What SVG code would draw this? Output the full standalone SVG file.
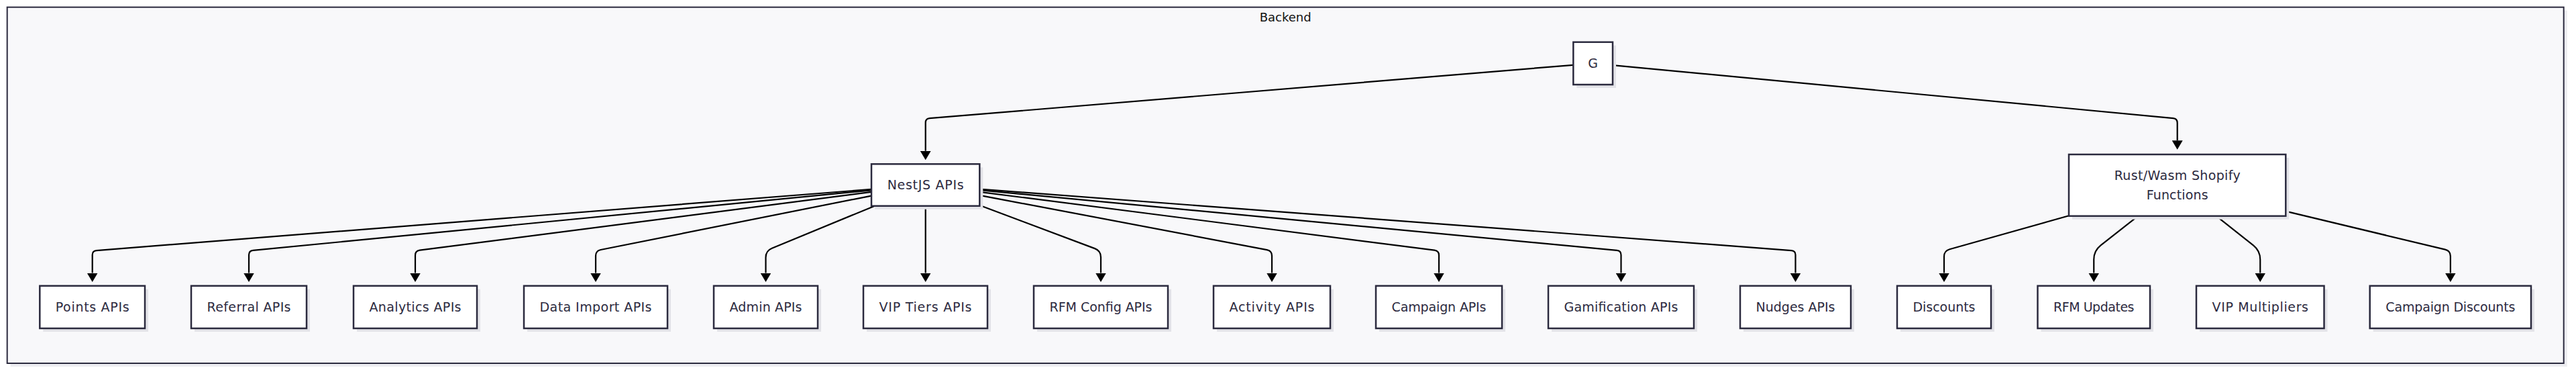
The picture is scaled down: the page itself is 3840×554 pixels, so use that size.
<svg xmlns="http://www.w3.org/2000/svg" width="3840" height="554" viewBox="0 0 3840 554">
<defs>
<marker id="arrow" viewBox="0 0 13.5 16" refX="0" refY="8" markerWidth="13.5" markerHeight="16" markerUnits="userSpaceOnUse" orient="auto">
<path d="M0,0 L13.5,8 L0,16 z" fill="#000"/>
</marker>
</defs>
<style>
.frame{fill:#f8f8fa;stroke:#2b2a3e;stroke-width:2}
.fshadow{fill:#ececf0}
.shadow{fill:#e3e3e8}
.box{fill:#ffffff;stroke:#2b2a3e;stroke-width:2.5}
.lbl{font-family:"DejaVu Sans",sans-serif;font-size:19px;fill:#2c2a40;text-anchor:middle}
.title{font-family:"DejaVu Sans",sans-serif;font-size:18px;fill:#111111;text-anchor:middle}
.edge{fill:none;stroke:#000;stroke-width:2.2;marker-end:url(#arrow)}
</style>
<rect width="3840" height="554" fill="#ffffff"/>
<g id="backend">
<rect class="fshadow" x="15.7" y="15.7" width="3811" height="530.3"/>
<rect class="frame" x="10.7" y="10.7" width="3811" height="530.3"/>
<text class="title" x="1916.2" y="32">Backend</text>
</g>
<g id="connectors">
<path class="edge" d="M2345.3,96.78 L1385.75,176.2 Q1379.7,176.7 1379.7,182.77 L1379.7,224.8"/>
<path class="edge" d="M2404,97.12 L3239.51,176.11 Q3245.7,176.7 3245.7,182.92 L3245.7,209.2"/>
<path class="edge" d="M1299.05,281.86 L143.7,373.03 Q137.7,373.5 137.7,379.52 L137.7,406.5"/>
<path class="edge" d="M1299.05,283.34 L377.23,372.89 Q371,373.5 371,379.76 L371,406.5"/>
<path class="edge" d="M1299.05,285.89 L625.61,372.65 Q619,373.5 619,380.16 L619,406.5"/>
<path class="edge" d="M1299.05,291.57 L895.39,372.03 Q888,373.5 888,381.04 L888,406.5"/>
<path class="edge" d="M1303.86,306.7 L1150.7,369.71 Q1141.5,373.5 1141.5,383.45 L1141.5,406.5"/>
<path class="edge" d="M1379.7,306.7 L1379.7,406.5"/>
<path class="edge" d="M1460.35,305.75 L1632.05,370.14 Q1641,373.5 1641,383.06 L1641,406.5"/>
<path class="edge" d="M1460.35,290.81 L1888.71,372.12 Q1896,373.5 1896,380.92 L1896,406.5"/>
<path class="edge" d="M1460.35,285.83 L2138.4,372.66 Q2145,373.5 2145,380.15 L2145,406.5"/>
<path class="edge" d="M1460.35,283.12 L2410.31,372.91 Q2416.5,373.5 2416.5,379.72 L2416.5,406.5"/>
<path class="edge" d="M1460.35,281.59 L2670.54,373.05 Q2676.5,373.5 2676.5,379.48 L2676.5,406.5"/>
<path class="edge" d="M3084.05,321.25 L2906.19,371.2 Q2898,373.5 2898,382.01 L2898,406.5"/>
<path class="edge" d="M3187.27,321.7 L3131.49,365.46 Q3121.25,373.5 3121.25,386.52 L3121.25,406.5"/>
<path class="edge" d="M3303.7,321.7 L3359,365.4 Q3369.25,373.5 3369.25,386.56 L3369.25,406.5"/>
<path class="edge" d="M3407.35,314.62 L3645.04,371.63 Q3652.85,373.5 3652.85,381.53 L3652.85,406.5"/>
</g>
<g id="node-G">
<rect class="shadow" x="2350.3" y="67.7" width="58.7" height="63.3"/>
<rect class="box" x="2345.3" y="62.7" width="58.7" height="63.3"/>
<text class="lbl" x="2374.65" y="101">G</text>
</g>
<g id="node-nestjs">
<rect class="shadow" x="1304" y="249.3" width="161.3" height="62.4"/>
<rect class="box" x="1299" y="244.3" width="161.3" height="62.4"/>
<text class="lbl" x="1379.65" y="282.3" textLength="114">NestJS APIs</text>
</g>
<g id="node-rust">
<rect class="shadow" x="3089" y="235" width="323.3" height="91.7"/>
<rect class="box" x="3084" y="230" width="323.3" height="91.7"/>
<text class="lbl" x="3245.65" y="268.3" textLength="188">Rust/Wasm Shopify</text>
<text class="lbl" x="3245.65" y="296.7" textLength="92">Functions</text>
</g>
<g id="node-points">
<rect class="shadow" x="64.3" y="430.7" width="156.7" height="63.3"/>
<rect class="box" x="59.3" y="425.7" width="156.7" height="63.3"/>
<text class="lbl" x="137.65" y="464.2" textLength="110">Points APIs</text>
</g>
<g id="node-referral">
<rect class="shadow" x="290" y="430.7" width="172" height="63.3"/>
<rect class="box" x="285" y="425.7" width="172" height="63.3"/>
<text class="lbl" x="371" y="464.2" textLength="125">Referral APIs</text>
</g>
<g id="node-analytics">
<rect class="shadow" x="532" y="430.7" width="184" height="63.3"/>
<rect class="box" x="527" y="425.7" width="184" height="63.3"/>
<text class="lbl" x="619" y="464.2" textLength="137">Analytics APIs</text>
</g>
<g id="node-dataimport">
<rect class="shadow" x="786" y="430.7" width="214" height="63.3"/>
<rect class="box" x="781" y="425.7" width="214" height="63.3"/>
<text class="lbl" x="888" y="464.2" textLength="167">Data Import APIs</text>
</g>
<g id="node-admin">
<rect class="shadow" x="1069" y="430.7" width="155" height="63.3"/>
<rect class="box" x="1064" y="425.7" width="155" height="63.3"/>
<text class="lbl" x="1141.5" y="464.2" textLength="108">Admin APIs</text>
</g>
<g id="node-viptiers">
<rect class="shadow" x="1292" y="430.7" width="185" height="63.3"/>
<rect class="box" x="1287" y="425.7" width="185" height="63.3"/>
<text class="lbl" x="1379.5" y="464.2" textLength="138">VIP Tiers APIs</text>
</g>
<g id="node-rfmconfig">
<rect class="shadow" x="1546" y="430.7" width="200" height="63.3"/>
<rect class="box" x="1541" y="425.7" width="200" height="63.3"/>
<text class="lbl" x="1641" y="464.2" textLength="153">RFM Config APIs</text>
</g>
<g id="node-activity">
<rect class="shadow" x="1814" y="430.7" width="174" height="63.3"/>
<rect class="box" x="1809" y="425.7" width="174" height="63.3"/>
<text class="lbl" x="1896" y="464.2" textLength="127">Activity APIs</text>
</g>
<g id="node-campaignapis">
<rect class="shadow" x="2056" y="430.7" width="188" height="63.3"/>
<rect class="box" x="2051" y="425.7" width="188" height="63.3"/>
<text class="lbl" x="2145" y="464.2" textLength="141">Campaign APIs</text>
</g>
<g id="node-gamification">
<rect class="shadow" x="2313" y="430.7" width="217" height="63.3"/>
<rect class="box" x="2308" y="425.7" width="217" height="63.3"/>
<text class="lbl" x="2416.5" y="464.2" textLength="170">Gamification APIs</text>
</g>
<g id="node-nudges">
<rect class="shadow" x="2599" y="430.7" width="165" height="63.3"/>
<rect class="box" x="2594" y="425.7" width="165" height="63.3"/>
<text class="lbl" x="2676.5" y="464.2" textLength="118">Nudges APIs</text>
</g>
<g id="node-discounts">
<rect class="shadow" x="2833" y="430.7" width="140" height="63.3"/>
<rect class="box" x="2828" y="425.7" width="140" height="63.3"/>
<text class="lbl" x="2898" y="464.2" textLength="93">Discounts</text>
</g>
<g id="node-rfmupdates">
<rect class="shadow" x="3042.5" y="430.7" width="167.5" height="63.3"/>
<rect class="box" x="3037.5" y="425.7" width="167.5" height="63.3"/>
<text class="lbl" x="3121.25" y="464.2" textLength="120.5">RFM Updates</text>
</g>
<g id="node-vipmultipliers">
<rect class="shadow" x="3279" y="430.7" width="190.5" height="63.3"/>
<rect class="box" x="3274" y="425.7" width="190.5" height="63.3"/>
<text class="lbl" x="3369.25" y="464.2" textLength="143.5">VIP Multipliers</text>
</g>
<g id="node-campaigndiscounts">
<rect class="shadow" x="3537.7" y="430.7" width="240.3" height="63.3"/>
<rect class="box" x="3532.7" y="425.7" width="240.3" height="63.3"/>
<text class="lbl" x="3652.85" y="464.2" textLength="193">Campaign Discounts</text>
</g>
</svg>
